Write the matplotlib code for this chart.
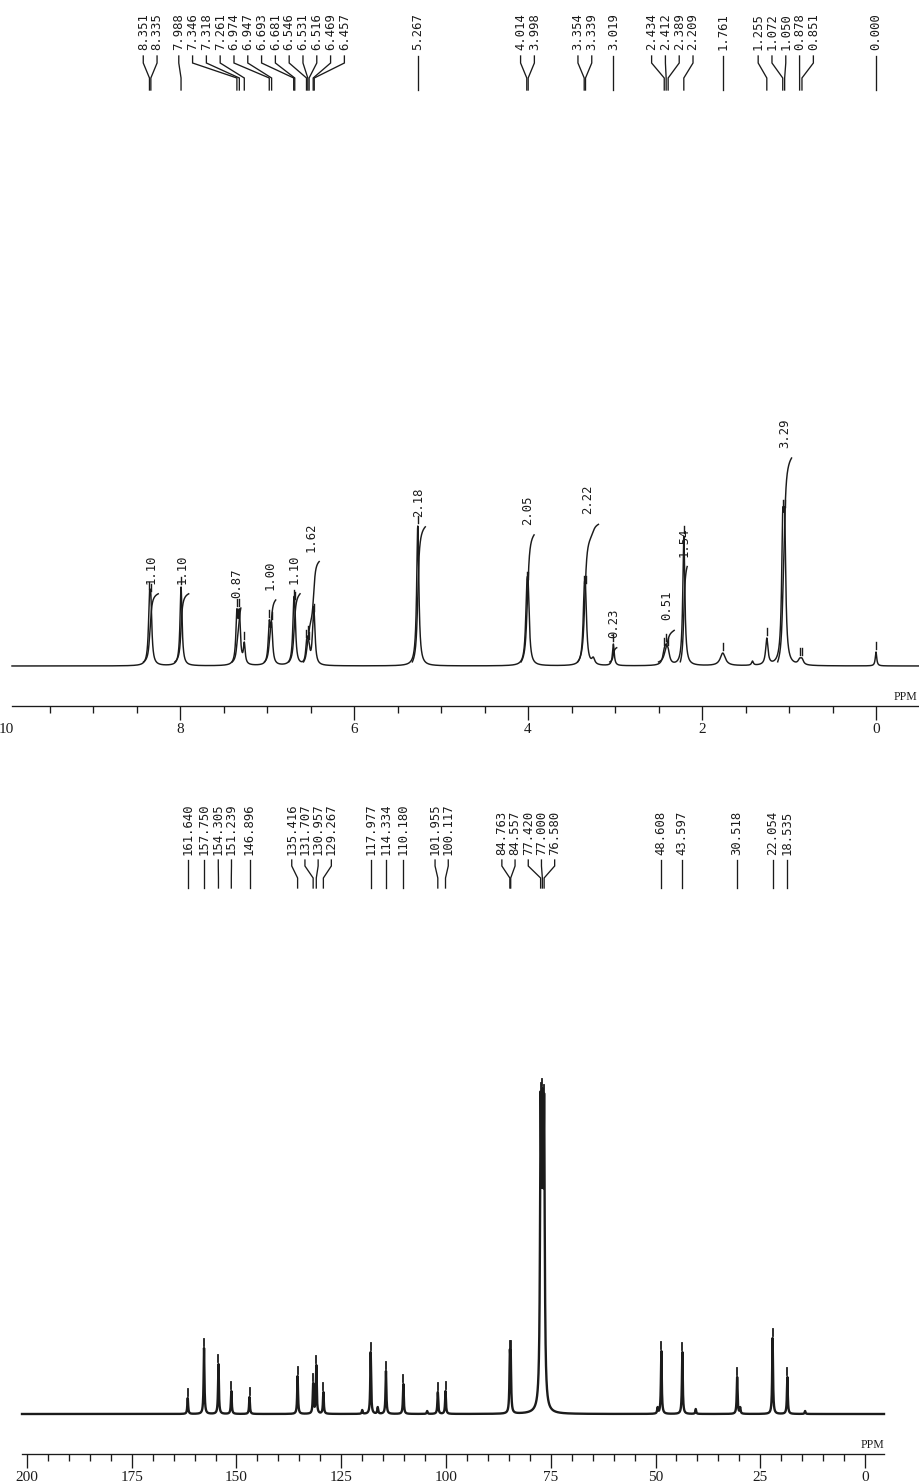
import numpy as np
import matplotlib
matplotlib.use("Agg")
import matplotlib.pyplot as plt
from matplotlib.ticker import FixedLocator

# ---------------- 1H NMR (CDCl3) ----------------
h1_shift = [8.351, 8.335, 7.988, 7.346, 7.318, 7.261, 6.974, 6.947, 6.693, 6.681,
            6.546, 6.531, 6.516, 6.469, 6.457, 5.267, 4.014, 3.998, 3.354, 3.339,
            3.019, 2.434, 2.412, 2.389, 2.209, 1.761, 1.255, 1.072, 1.050, 0.878,
            0.851, 0.000]
h1_height = [74, 72, 79, 57, 57, 24, 46, 44, 66, 64,
             26, 30, 24, 50, 52, 140, 84, 84, 80, 80,
             22, 18, 22, 18, 130, 13, 28, 156, 156, 8,
             8, 14]
h1_hwhm = [0.014, 0.014, 0.014, 0.014, 0.014, 0.012, 0.014, 0.014, 0.014, 0.014,
           0.012, 0.012, 0.012, 0.014, 0.014, 0.015, 0.016, 0.016, 0.016, 0.016,
           0.012, 0.020, 0.020, 0.020, 0.014, 0.035, 0.016, 0.015, 0.015, 0.020,
           0.020, 0.010]
# weak unassigned signals
h1_extra_shift = [3.250, 1.420]
h1_extra_height = [9, 5]
h1_extra_hwhm = [0.020, 0.012]

# integration regions and values
h1_int_start = [8.42, 8.06, 7.40, 7.03, 6.75, 6.58, 5.33, 4.08, 3.43, 3.06, 2.50, 2.25, 1.13]
h1_int_end = [8.25, 7.90, 7.30, 6.90, 6.62, 6.40, 5.18, 3.93, 3.19, 2.98, 2.32, 2.17, 0.97]
h1_int_value = [1.10, 1.10, 0.87, 1.00, 1.10, 1.62, 2.18, 2.05, 2.22, 0.23, 0.51, 1.54, 3.29]

h1_major_ticks = [10, 8, 6, 4, 2, 0]

# ---------------- 13C NMR (CDCl3) ----------------
c13_shift = [161.640, 157.750, 154.305, 151.239, 146.896, 135.416, 131.707, 130.957,
             129.267, 117.977, 114.334, 110.180, 101.955, 100.117, 84.763, 84.557,
             77.420, 77.000, 76.580, 48.608, 43.597, 30.518, 22.054, 18.535]
c13_height = [16, 66, 50, 23, 17, 38, 31, 49,
              22, 62, 43, 30, 22, 23, 64, 64,
              322, 326, 320, 63, 62, 37, 76, 37]
c13_hwhm = [0.12, 0.12, 0.12, 0.12, 0.12, 0.12, 0.12, 0.12,
            0.12, 0.12, 0.12, 0.12, 0.12, 0.12, 0.12, 0.12,
            0.17, 0.17, 0.17, 0.12, 0.12, 0.12, 0.12, 0.12]
c13_extra_shift = [120.0, 116.3, 104.5, 49.5, 40.4, 29.8, 14.3]
c13_extra_height = [4, 7, 3, 7, 5, 7, 3]

c13_major_ticks = [200, 175, 150, 125, 100, 75, 50, 25, 0]

# ---------------- layout (pixels) ----------------
W, H = 919, 1484
INK = "#1b1b1b"
H1_TOP, H1_BASE, H1_AXIS = 0, 666, 706
C13_TOP, C13_BASE, C13_AXIS = 735, 1414, 1454
H1_ZERO, H1_SCALE = 876.0, 87.0          # px of 0 ppm, px per ppm
C13_ZERO, C13_SCALE = 865.0, 4.19
INT_SCALE, INT_BASE = 62.0, 4.0

plt.rcParams["font.family"] = ["Liberation Serif", "DejaVu Serif"]
LABEL_FONT = dict(family="DejaVu Sans Mono", size=8.8, color=INK)

fig = plt.figure(figsize=(W / 100, H / 100), dpi=100)
fig.patch.set_facecolor("white")


def lorentz(x, c, w):
    return 1.0 / (1.0 + ((x - c) / w) ** 2)


def line_amplitudes(centers, heights, widths):
    c = np.asarray(centers, float)
    w = np.asarray(widths, float)
    A = lorentz(c[:, None], c[None, :], w[None, :])
    amp = np.linalg.solve(A, np.asarray(heights, float))
    return c, w, np.clip(amp, 0, None)


def evaluate(x, c, w, amp):
    return (amp[None, :] * lorentz(np.asarray(x)[:, None], c[None, :], w[None, :])).sum(axis=1)


def make_panel(top, base, axis, zero, scale, left_px, right_px):
    ax = fig.add_axes([0, (H - axis) / H, 1, (axis - top) / H])
    ax.set_xlim(zero / scale, (zero - W) / scale)
    ax.set_ylim(-(axis - base), base - top)
    ax.patch.set_visible(False)
    for s in ("top", "left", "right"):
        ax.spines[s].set_visible(False)
    ax.spines["bottom"].set_color(INK)
    ax.spines["bottom"].set_linewidth(0.95)
    ax.spines["bottom"].set_bounds((zero - left_px) / scale, (zero - right_px) / scale)
    ax.set_yticks([])
    ax.tick_params(axis="x", which="major", length=10, width=0.95, pad=2.5,
                   labelsize=11, colors=INK, direction="out")
    ax.tick_params(axis="x", which="minor", length=5, width=0.95, colors=INK,
                   direction="out")
    return ax


def spread(xpix, gap, attach=1.8):
    """Spread label positions so that neighbours are at least `gap` px apart."""
    order = np.argsort(xpix)
    xs = np.asarray(xpix, float)[order]
    groups = [[i] for i in range(len(xs))]

    def place(g):
        pk = xs[g]
        c = 0.5 * (pk.mean() + 0.5 * (pk.min() + pk.max()))
        return c + (np.arange(len(g)) - (len(g) - 1) / 2.0) * gap

    merged = True
    while merged:
        merged = False
        pos = [place(g) for g in groups]
        for k in range(len(groups) - 1):
            dist = pos[k + 1][0] - pos[k][-1]
            sizes = sorted([len(groups[k]), len(groups[k + 1])])
            lone = sizes[0] == 1 and sizes[1] >= 3 and dist < attach * gap
            if dist < gap or lone:
                groups[k] = groups[k] + groups[k + 1]
                del groups[k + 1]
                merged = True
                break
    out = np.empty(len(xs))
    for g in groups:
        out[g] = place(g)
    res = np.empty_like(out)
    res[order] = out
    return res


def peak_labels(ax, shifts, y_text, y_start, y_knee1, y_knee2, y_end, gap):
    shifts = np.asarray(shifts, float)
    pts = np.column_stack([shifts, np.zeros_like(shifts)])
    xp = ax.transData.transform(pts)[:, 0]
    xl = spread(xp, gap)
    xl_data = ax.transData.inverted().transform(np.column_stack([xl, np.zeros_like(xl)]))[:, 0]
    for s, xd in zip(shifts, xl_data):
        ax.text(xd, y_text, f"{s:.3f}", rotation=90, ha="center", va="bottom", **LABEL_FONT)
        ax.plot([xd, xd, s, s], [y_start, y_knee1, y_knee2, y_end], color=INK,
                lw=0.95, solid_joinstyle="miter")


def pick_marks(ax, shifts, apex, gap, length, lw):
    for s, a in zip(shifts, apex):
        ax.plot([s, s], [a + gap, a + gap + length], color=INK, lw=lw)


# ================= 1H panel =================
ax1 = make_panel(H1_TOP, H1_BASE, H1_AXIS, H1_ZERO, H1_SCALE, 12, W)
c1, w1, a1 = line_amplitudes(h1_shift + h1_extra_shift, h1_height + h1_extra_height,
                             h1_hwhm + h1_extra_hwhm)
x1 = np.linspace((H1_ZERO - 12) / H1_SCALE, (H1_ZERO - W) / H1_SCALE, 14000)
y1 = evaluate(x1, c1, w1, a1)
ax1.plot(x1, y1, color=INK, lw=1.05)

# integrals
for start, end, val in zip(h1_int_start, h1_int_end, h1_int_value):
    m = (x1 <= start) & (x1 >= end)
    cum = np.cumsum(y1[m])
    cum = cum / cum[-1]
    top = INT_BASE + val * INT_SCALE
    ax1.plot(x1[m], INT_BASE + cum * val * INT_SCALE, color=INK, lw=1.05)
    ax1.text(0.5 * (start + end), top + 10, f"{val:.2f}", rotation=90, ha="center",
             va="bottom", **LABEL_FONT)

apex1 = evaluate(np.asarray(h1_shift), c1, w1, a1)
pick_marks(ax1, h1_shift, apex1, 3, 7, 1.0)

# shift list with leader lines
peak_labels(ax1, h1_shift, y_text=H1_BASE - 50, y_start=H1_BASE - 56,
            y_knee1=H1_BASE - 63, y_knee2=H1_BASE - 78, y_end=H1_BASE - 90, gap=13.8)

ax1.xaxis.set_major_locator(FixedLocator(h1_major_ticks))
ax1.xaxis.set_minor_locator(FixedLocator(
    [v for v in np.arange(9.5, -0.01, -0.5) if v % 2 != 0]))
ax1.set_xticklabels([str(t) for t in h1_major_ticks])
ax1.xaxis.get_major_ticks()[0].tick1line.set_visible(False)
ax1.text((H1_ZERO - 917) / H1_SCALE, -(H1_AXIS - H1_BASE) + 3, "PPM", ha="right",
         va="bottom", fontsize=8.5, color=INK)

# ================= 13C panel =================
ax2 = make_panel(C13_TOP, C13_BASE, C13_AXIS, C13_ZERO, C13_SCALE, 22, 884)
w13 = c13_hwhm + [0.12] * len(c13_extra_shift)
c2, w2, a2 = line_amplitudes(c13_shift + c13_extra_shift, c13_height + c13_extra_height, w13)
x2 = np.linspace((C13_ZERO - 22) / C13_SCALE, (C13_ZERO - 884) / C13_SCALE, 26000)
y2 = evaluate(x2, c2, w2, a2)
ax2.plot(x2, y2, color=INK, lw=1.7)

apex2 = evaluate(np.asarray(c13_shift), c2, w2, a2)
pick_marks(ax2, c13_shift, apex2, 2, 7, 1.3)

peak_labels(ax2, c13_shift, y_text=C13_BASE - 855, y_start=C13_BASE - 860,
            y_knee1=C13_BASE - 866, y_knee2=C13_BASE - 878, y_end=C13_BASE - 888, gap=13.2)

ax2.xaxis.set_major_locator(FixedLocator(c13_major_ticks))
ax2.xaxis.set_minor_locator(FixedLocator([v for v in range(200, -1, -5) if v % 25 != 0]))
ax2.set_xticklabels([str(t) for t in c13_major_ticks])
ax2.text((C13_ZERO - 884) / C13_SCALE, -(C13_AXIS - C13_BASE) + 3, "PPM", ha="right",
         va="bottom", fontsize=8.5, color=INK)

fig.savefig("out.png", dpi=100, facecolor="white")
